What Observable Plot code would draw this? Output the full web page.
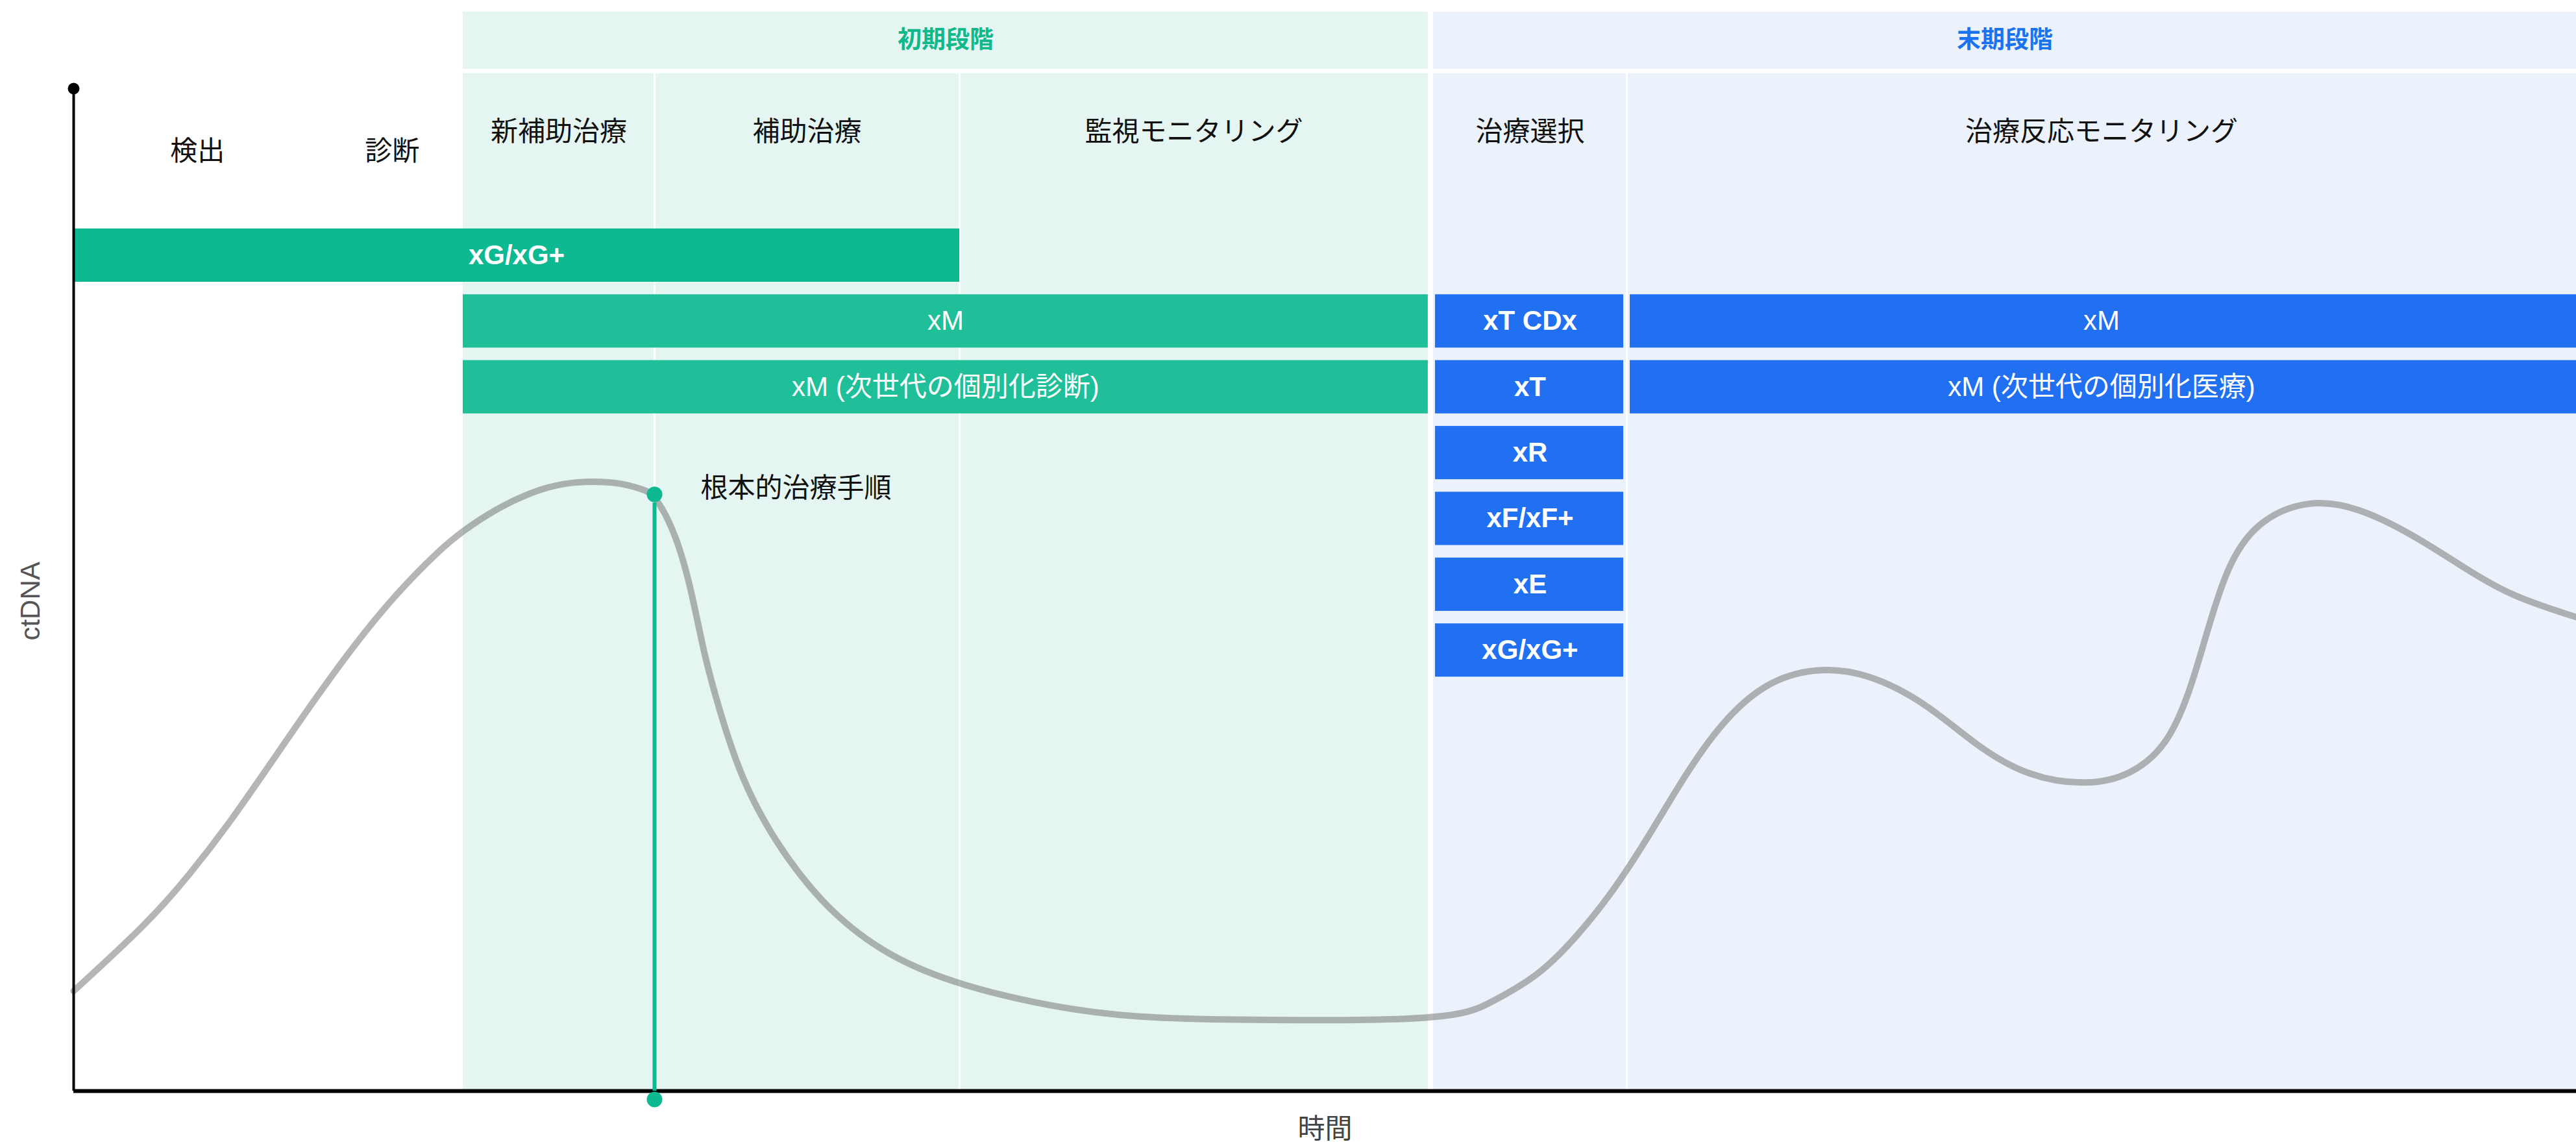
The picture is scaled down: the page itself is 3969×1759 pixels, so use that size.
<!DOCTYPE html>
<html>
<head>
<meta charset="utf-8">
<script src="https://cdn.jsdelivr.net/npm/d3@7"></script>
<script src="https://cdn.jsdelivr.net/npm/@observablehq/plot@0.6"></script>
<style>
  html, body { margin: 0; padding: 0; background: #fff; }
  #chart svg { display: block; }
</style>
</head>
<body>
<div id="chart"></div>
<script>
// ---- Data (time axis 0–100, ctDNA axis 0–100) ----
const phaseNames = ["初期段階", "末期段階"];
const phaseStart = [15.56, 54.33];
const phaseEnd   = [54.12, 100];

const subNames = ["新補助治療", "補助治療", "監視モニタリング", "治療選択", "治療反応モニタリング"];
const subStart = [15.56, 23.21, 35.40, 54.33, 62.06];
const subEnd   = [23.21, 35.40, 54.12, 62.06, 100];

const preNames = ["検出", "診断"];
const preTime  = [4.95, 12.73];

const testNames = ["xG/xG+", "xM", "xM (次世代の個別化診断)",
                   "xT CDx", "xT", "xR", "xF/xF+", "xE", "xG/xG+",
                   "xM", "xM (次世代の個別化医療)"];
const testStage = [0, 0, 0, 1, 1, 1, 1, 1, 1, 1, 1];
const testLane  = [0, 1, 2, 1, 2, 3, 4, 5, 6, 1, 2];
const testStart = [0, 15.56, 15.56, 54.33, 54.33, 54.33, 54.33, 54.33, 54.33, 62.06, 62.06];
const testEnd   = [35.40, 54.12, 54.12, 62.06, 62.06, 62.06, 62.06, 62.06, 62.06, 100, 100];

const curveTime  = [0, 2.98, 4.62, 6.28, 7.94, 9.60, 11.26, 12.89, 14.55, 15.53, 17.04, 18.70, 20.02, 21.65, 22.82, 23.21,
                    24.07, 24.71, 25.16, 25.80, 26.66, 27.96, 30.11, 32.68, 35.48, 39.13, 42.35, 46.65, 54.18,
                    55.89, 56.46, 58.51, 59.98, 61.44, 62.89, 64.37, 65.82, 67.58, 69.63, 71.68, 74.01, 76.06,
                    78.11, 80.45, 82.21, 83.66, 84.54, 85.14, 86.02, 87.19, 89.24, 91.29, 93.62, 95.67, 97.41, 100];
const curveCtDNA = [9.27, 15.6, 20.0, 25.0, 30.6, 36.2, 41.5, 46.1, 50.0, 51.9, 54.2, 55.9, 56.50, 56.50, 55.72, 55.29,
                    51.68, 46.21, 40.73, 35.26, 29.06, 23.23, 16.67, 12.27, 9.75, 7.76, 6.80, 6.56, 6.56,
                    7.40, 8.00, 10.59, 14.08, 18.23, 23.41, 29.24, 34.12, 37.91, 39.29, 38.75, 36.0, 31.9,
                    29.1, 28.3, 29.24, 32.01, 36.88, 41.70, 48.62, 52.77, 54.87, 54.15, 51.38, 48.25, 45.85, 43.92];

const surgeryName = "根本的治療手順";
const surgeryTime = 23.21;

const xAxisLabel = "時間";
const yAxisLabel = "ctDNA";

// ---- Derived tables ----
const phases = phaseNames.map((name, i) => ({name, i, start: phaseStart[i], end: phaseEnd[i]}));
const subs = subNames.map((name, i) => ({name, start: subStart[i], end: subEnd[i]}));
const pre = preNames.map((name, i) => ({name, t: preTime[i]}));
const tests = testNames.map((name, i) => ({name, stage: testStage[i], lane: testLane[i], start: testStart[i], end: testEnd[i]}));
const curve = curveTime.map((t, i) => ({t, v: curveCtDNA[i]}));
const surgeryLevel = curve.find(d => d.t === surgeryTime).v;
const dividers = subs.filter(s => !phaseStart.includes(s.start));

// ---- Layout / style constants ----
const HEADER_LO = 94.7, HEADER_HI = 100, BODY_HI = 94.3, HEADER_Y = 97.35;
const SUB_Y = 88.87, PRE_Y = 87.06, AXIS_TOP = 92.9;
const LANE0 = 77.44, LANE_STEP = 6.1, HALF = 2.47;
const laneY = k => LANE0 - LANE_STEP * k;
const bandFill = ["#e5f6f2", "#ebf2fb"];
const headFill = ["#10b98b", "#1a73f0"];
const green = "#0cb991", greenLight = "#1fbf9a", blue = "#2170f2";
const barFill = d => d.stage === 1 ? blue : (d.lane === 0 ? green : greenLight);
const isPanel = d => d.name.startsWith("xM");
const FONT = '"Liberation Sans", "Noto Sans CJK JP", sans-serif';

const greenBars = tests.filter(d => d.stage === 0);
const blueBoxes = tests.filter(d => d.stage === 1 && !isPanel(d));
const bluePanels = tests.filter(d => d.stage === 1 && isPanel(d));
const barOpts = extra => ({
  x1: "start", x2: "end",
  y1: d => laneY(d.lane) - HALF, y2: d => laneY(d.lane) + HALF,
  fill: barFill,
  ...extra
});
const labelOpts = extra => ({
  x: d => (d.start + d.end) / 2, y: d => laneY(d.lane),
  text: "name", fill: "#fff", fontSize: 42,
  ...extra
});

const chart = Plot.plot({
  width: 3969,
  height: 1759,
  marginLeft: 113,
  marginRight: 0,
  marginTop: 18,
  marginBottom: 79,
  x: {domain: [0, 100], axis: null},
  y: {domain: [0, 100], axis: null},
  style: `font-family: ${FONT}; background: #fff; overflow: visible;`,
  marks: [
    Plot.rect(phases, {x1: "start", x2: "end", y1: HEADER_LO, y2: HEADER_HI, fill: d => bandFill[d.i]}),
    Plot.rect(phases, {x1: "start", x2: "end", y1: 0, y2: BODY_HI, fill: d => bandFill[d.i]}),
    Plot.ruleX(dividers, {x: "start", y1: 0, y2: BODY_HI, stroke: "#fff", strokeWidth: 3}),
    Plot.rect(greenBars, barOpts({})),
    Plot.rect(blueBoxes, barOpts({insetLeft: 3, insetRight: 5})),
    Plot.rect(bluePanels, barOpts({insetLeft: 5})),
    Plot.line(curve, {x: "t", y: "v", curve: "basis", stroke: "#7d7f80", strokeOpacity: 0.58, strokeWidth: 10}),
    Plot.ruleY([0], {x1: 0, x2: 100, stroke: "#000", strokeWidth: 6}),
    Plot.ruleX([0], {y1: 0, y2: AXIS_TOP, stroke: "#000", strokeWidth: 4}),
    Plot.dot([0], {x: 0, y: AXIS_TOP, r: 9, fill: "#000"}),
    Plot.ruleX([surgeryTime], {y1: 0, y2: surgeryLevel, stroke: green, strokeWidth: 6, insetBottom: -13}),
    Plot.dot([surgeryTime], {x: d => d, y: surgeryLevel, r: 12, fill: green}),
    Plot.dot([surgeryTime], {x: d => d, y: 0, r: 12, fill: green, dy: 13}),
    Plot.text([surgeryName], {x: surgeryTime, y: surgeryLevel, text: d => d, textAnchor: "start", dx: 71, dy: -9, fontSize: 42, fill: "#111"}),
    Plot.text(phases, {x: d => (d.start + d.end) / 2, y: HEADER_Y, text: "name", fontSize: 37, fontWeight: "bold", fill: d => headFill[d.i]}),
    Plot.text(subs, {x: d => (d.start + d.end) / 2, y: SUB_Y, text: "name", fontSize: 42, fill: "#111"}),
    Plot.text(pre, {x: "t", y: PRE_Y, text: "name", fontSize: 42, fill: "#111"}),
    Plot.text(tests.filter(d => !isPanel(d)), labelOpts({fontWeight: "bold"})),
    Plot.text(tests.filter(isPanel), labelOpts({fontWeight: "normal"})),
    Plot.text([xAxisLabel], {x: 50, y: 0, text: d => d, dy: 59, fontSize: 42, fill: "#444"}),
    Plot.text([yAxisLabel], {x: 0, y: 45.4, text: d => d, dx: -66, rotate: -90, fontSize: 42, fill: "#555"})
  ]
});

document.getElementById("chart").append(chart);
</script>
</body>
</html>
